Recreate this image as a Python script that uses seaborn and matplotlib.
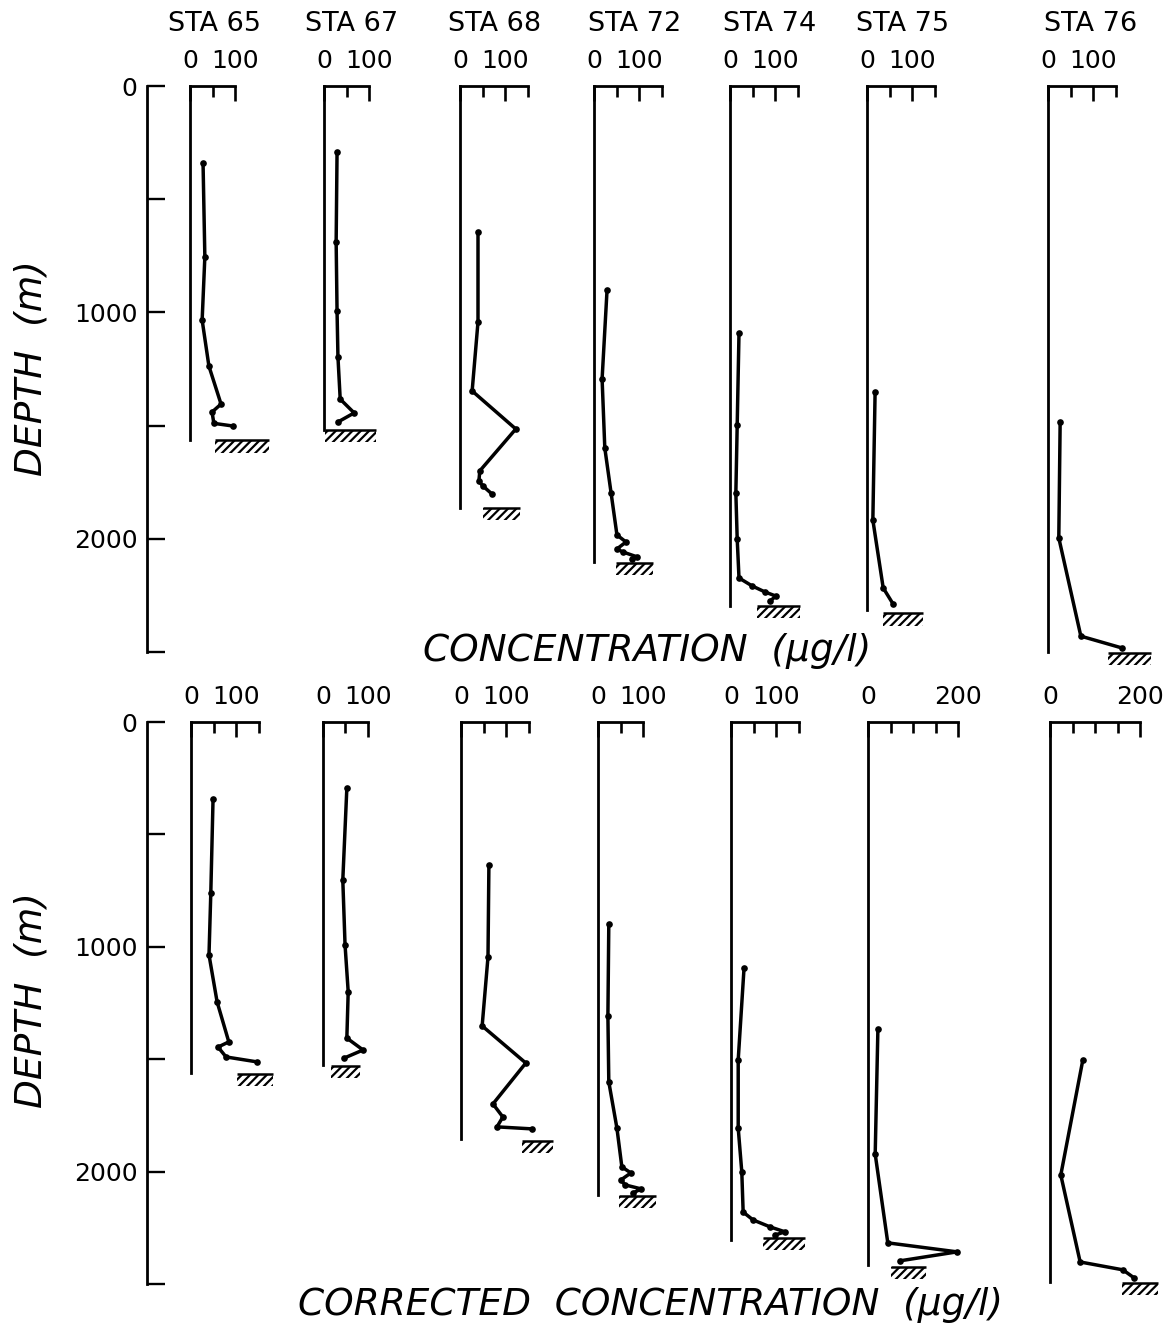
import matplotlib
matplotlib.use("Agg")
import matplotlib.pyplot as plt
import seaborn as sns
import pandas as pd
from matplotlib.patches import Rectangle

# ---------------- data ----------------
stations = ["STA 65", "STA 67", "STA 68", "STA 72", "STA 74", "STA 75", "STA 76"]

# upper panel: concentration (ug/l) vs depth (m)
conc_65 = [29, 33, 27, 42, 69, 49, 53, 96]
depth_65 = [340, 755, 1034, 1237, 1405, 1440, 1490, 1502]
conc_67 = [29, 27, 29, 31, 36, 67, 31]
depth_67 = [292, 689, 994, 1197, 1383, 1444, 1484]
conc_68 = [40, 40, 27, 124, 44, 42, 51, 71]
depth_68 = [645, 1042, 1347, 1515, 1700, 1745, 1767, 1802]
conc_72 = [29, 18, 24, 38, 51, 71, 51, 64, 96, 84]
depth_72 = [901, 1294, 1599, 1798, 1983, 2014, 2045, 2058, 2080, 2089]
conc_74 = [20, 16, 13, 16, 20, 49, 78, 102, 89]
depth_74 = [1091, 1497, 1798, 2001, 2173, 2208, 2235, 2253, 2275]
conc_75 = [18, 13, 36, 58]
depth_75 = [1352, 1917, 2217, 2288]
conc_76 = [27, 24, 73, 164]
depth_76 = [1484, 1996, 2430, 2482]

# lower panel: corrected concentration (ug/l) vs depth (m)
corr_65 = [49, 44, 40, 58, 84, 60, 78, 147]
corr_depth_65 = [342, 761, 1036, 1245, 1423, 1446, 1490, 1512]
corr_67 = [53, 44, 49, 56, 53, 89, 47]
corr_depth_67 = [294, 703, 992, 1200, 1406, 1459, 1495]
corr_68 = [62, 60, 47, 144, 71, 93, 80, 158]
corr_depth_68 = [636, 1045, 1352, 1517, 1699, 1757, 1801, 1810]
corr_72 = [24, 22, 24, 42, 53, 73, 51, 60, 96, 78]
corr_depth_72 = [898, 1308, 1601, 1806, 1979, 2006, 2037, 2059, 2077, 2095]
corr_74 = [29, 16, 16, 24, 27, 49, 87, 120, 98]
corr_depth_74 = [1094, 1503, 1806, 2002, 2180, 2215, 2246, 2268, 2282]
corr_75 = [22, 16, 44, 198, 71]
corr_depth_75 = [1366, 1922, 2317, 2357, 2397]
corr_76 = [73, 24, 67, 162, 187]
corr_depth_76 = [1503, 2015, 2402, 2437, 2473]

# station bottom depth (m) and seafloor hatch extent (ug/l)
floor_top = [1564, 1519, 1864, 2102, 2297, 2314, 2500]
floor_bottom = [1561, 1526, 1855, 2104, 2304, 2415, 2491]
hatch_top_depth = [1564, 1519, 1864, 2107, 2297, 2328, 2504]
hatch_top_from = [56, 2, 51, 49, 60, 36, 133]
hatch_top_to = [176, 116, 133, 131, 156, 124, 229]
hatch_bot_depth = [1566, 1530, 1864, 2108, 2295, 2424, 2495]
hatch_bot_from = [102, 18, 136, 47, 71, 51, 160]
hatch_bot_to = [182, 82, 204, 129, 164, 129, 240]

# scale brackets (ug/l)
scale_top_max = [100, 100, 150, 150, 150, 150, 150]
scale_top_label = [100, 100, 100, 100, 100, 100, 100]
scale_bot_max = [150, 100, 150, 100, 150, 200, 200]
scale_bot_label = [100, 100, 100, 100, 100, 200, 200]

depth_ticks = [0, 1000, 2000]
depth_minor = [500, 1500, 2500]

top_profiles = [(conc_65, depth_65), (conc_67, depth_67), (conc_68, depth_68),
                (conc_72, depth_72), (conc_74, depth_74), (conc_75, depth_75),
                (conc_76, depth_76)]
bot_profiles = [(corr_65, corr_depth_65), (corr_67, corr_depth_67), (corr_68, corr_depth_68),
                (corr_72, corr_depth_72), (corr_74, corr_depth_74), (corr_75, corr_depth_75),
                (corr_76, corr_depth_76)]

# ---------------- layout ----------------
sns.set_style("white")
plt.rcParams["font.family"] = ["DejaVu Sans"]
plt.rcParams["text.color"] = "black"
plt.rcParams["xtick.color"] = "black"
plt.rcParams["ytick.color"] = "black"
plt.rcParams["hatch.linewidth"] = 1.6

W, H = 1175, 1330
fig = plt.figure(figsize=(W / 100, H / 100), dpi=100)
PX_PER_UNIT = 0.45
ST_W = 140


def rect(left, top, width, height):
    return [left / W, 1 - (top + height) / H, width / W, height / H]


panels = [
    dict(y0=86, y1=652, x0=[190, 324, 460, 594, 730, 867, 1048], prof=top_profiles,
         floor=floor_top, hd=hatch_top_depth, hf=hatch_top_from, ht=hatch_top_to,
         smax=scale_top_max, slab=scale_top_label, ylab_y=368,
         xlab="CONCENTRATION  (µg/l)", xlab_x=647, xlab_y=651),
    dict(y0=722, y1=1284, x0=[191, 323, 461, 598, 731, 868, 1050], prof=bot_profiles,
         floor=floor_bottom, hd=hatch_bot_depth, hf=hatch_bot_from, ht=hatch_bot_to,
         smax=scale_bot_max, slab=scale_bot_label, ylab_y=1000,
         xlab="CORRECTED  CONCENTRATION  (µg/l)", xlab_x=651, xlab_y=1305),
]

title_x = [215, 352, 495, 635, 770, 903, 1091]

for p in panels:
    hgt = p["y1"] - p["y0"]
    # depth axis
    dax = fig.add_axes(rect(147, p["y0"], 60, hgt))
    dax.patch.set_alpha(0)
    dax.set_ylim(2500, 0)
    dax.set_xlim(0, 1)
    for s in ["top", "right", "bottom"]:
        dax.spines[s].set_visible(False)
    dax.spines["left"].set_linewidth(2.0)
    dax.spines["left"].set_color("black")
    dax.set_xticks([])
    dax.set_yticks(depth_ticks)
    dax.set_yticks(depth_minor, minor=True)
    dax.set_yticklabels([str(t) for t in depth_ticks])
    dax.tick_params(axis="y", which="both", direction="in", length=13, width=1.7,
                    labelsize=18, pad=7, left=True, colors="black")
    fig.text(32 / W, 1 - p["ylab_y"] / H, "DEPTH  (m)", rotation=90, style="italic",
             fontsize=27, ha="center", va="center")
    fig.text(p["xlab_x"] / W, 1 - p["xlab_y"] / H, p["xlab"], style="italic",
             fontsize=27, ha="center", va="center")

    for i, st in enumerate(stations):
        ax = fig.add_axes(rect(p["x0"][i], p["y0"], ST_W, hgt))
        ax.patch.set_alpha(0)
        conc, dep = p["prof"][i]
        df = pd.DataFrame({"conc": conc, "depth": dep})
        sns.lineplot(data=df, x="conc", y="depth", sort=False, estimator=None,
                     color="black", lw=2.5, marker="o", markersize=4.8,
                     markeredgewidth=0, ax=ax, clip_on=False)
        ax.set_xlim(0, ST_W / PX_PER_UNIT)
        ax.set_ylim(2500, 0)
        ax.set_xlabel("")
        ax.set_ylabel("")
        ax.set_yticks([])
        for s in ["right", "bottom"]:
            ax.spines[s].set_visible(False)
        for s in ["top", "left"]:
            ax.spines[s].set_linewidth(2.0)
            ax.spines[s].set_color("black")
        ax.spines["top"].set_bounds(0, p["smax"][i])
        ax.spines["left"].set_bounds(0, p["floor"][i])
        ax.xaxis.tick_top()
        lab = p["slab"][i]
        ax.set_xticks([0, lab])
        ax.set_xticklabels(["0", str(lab)])
        ax.set_xticks([v for v in range(50, p["smax"][i] + 1, 50) if v != lab], minor=True)
        ax.tick_params(axis="x", which="major", direction="in", length=11, width=1.9,
                       labelsize=18, pad=9, top=True, bottom=False, colors="black")
        ax.tick_params(axis="x", which="minor", direction="in", length=8, width=1.9,
                       top=True, bottom=False, colors="black")
        # seafloor hatch
        x_a, x_b, d_h = p["hf"][i], p["ht"][i], p["hd"][i]
        ax.add_patch(Rectangle((x_a, d_h), x_b - x_a, 55, hatch="////", fill=False,
                               lw=0, edgecolor="black", clip_on=False))
        ax.hlines(d_h, x_a, x_b, colors="black", lw=1.8, clip_on=False)
        if p is panels[0]:
            fig.text(title_x[i] / W, 1 - 24 / H, st, ha="center", va="center",
                     fontsize=19.5)

fig.savefig("out.png", dpi=100, facecolor="white")
